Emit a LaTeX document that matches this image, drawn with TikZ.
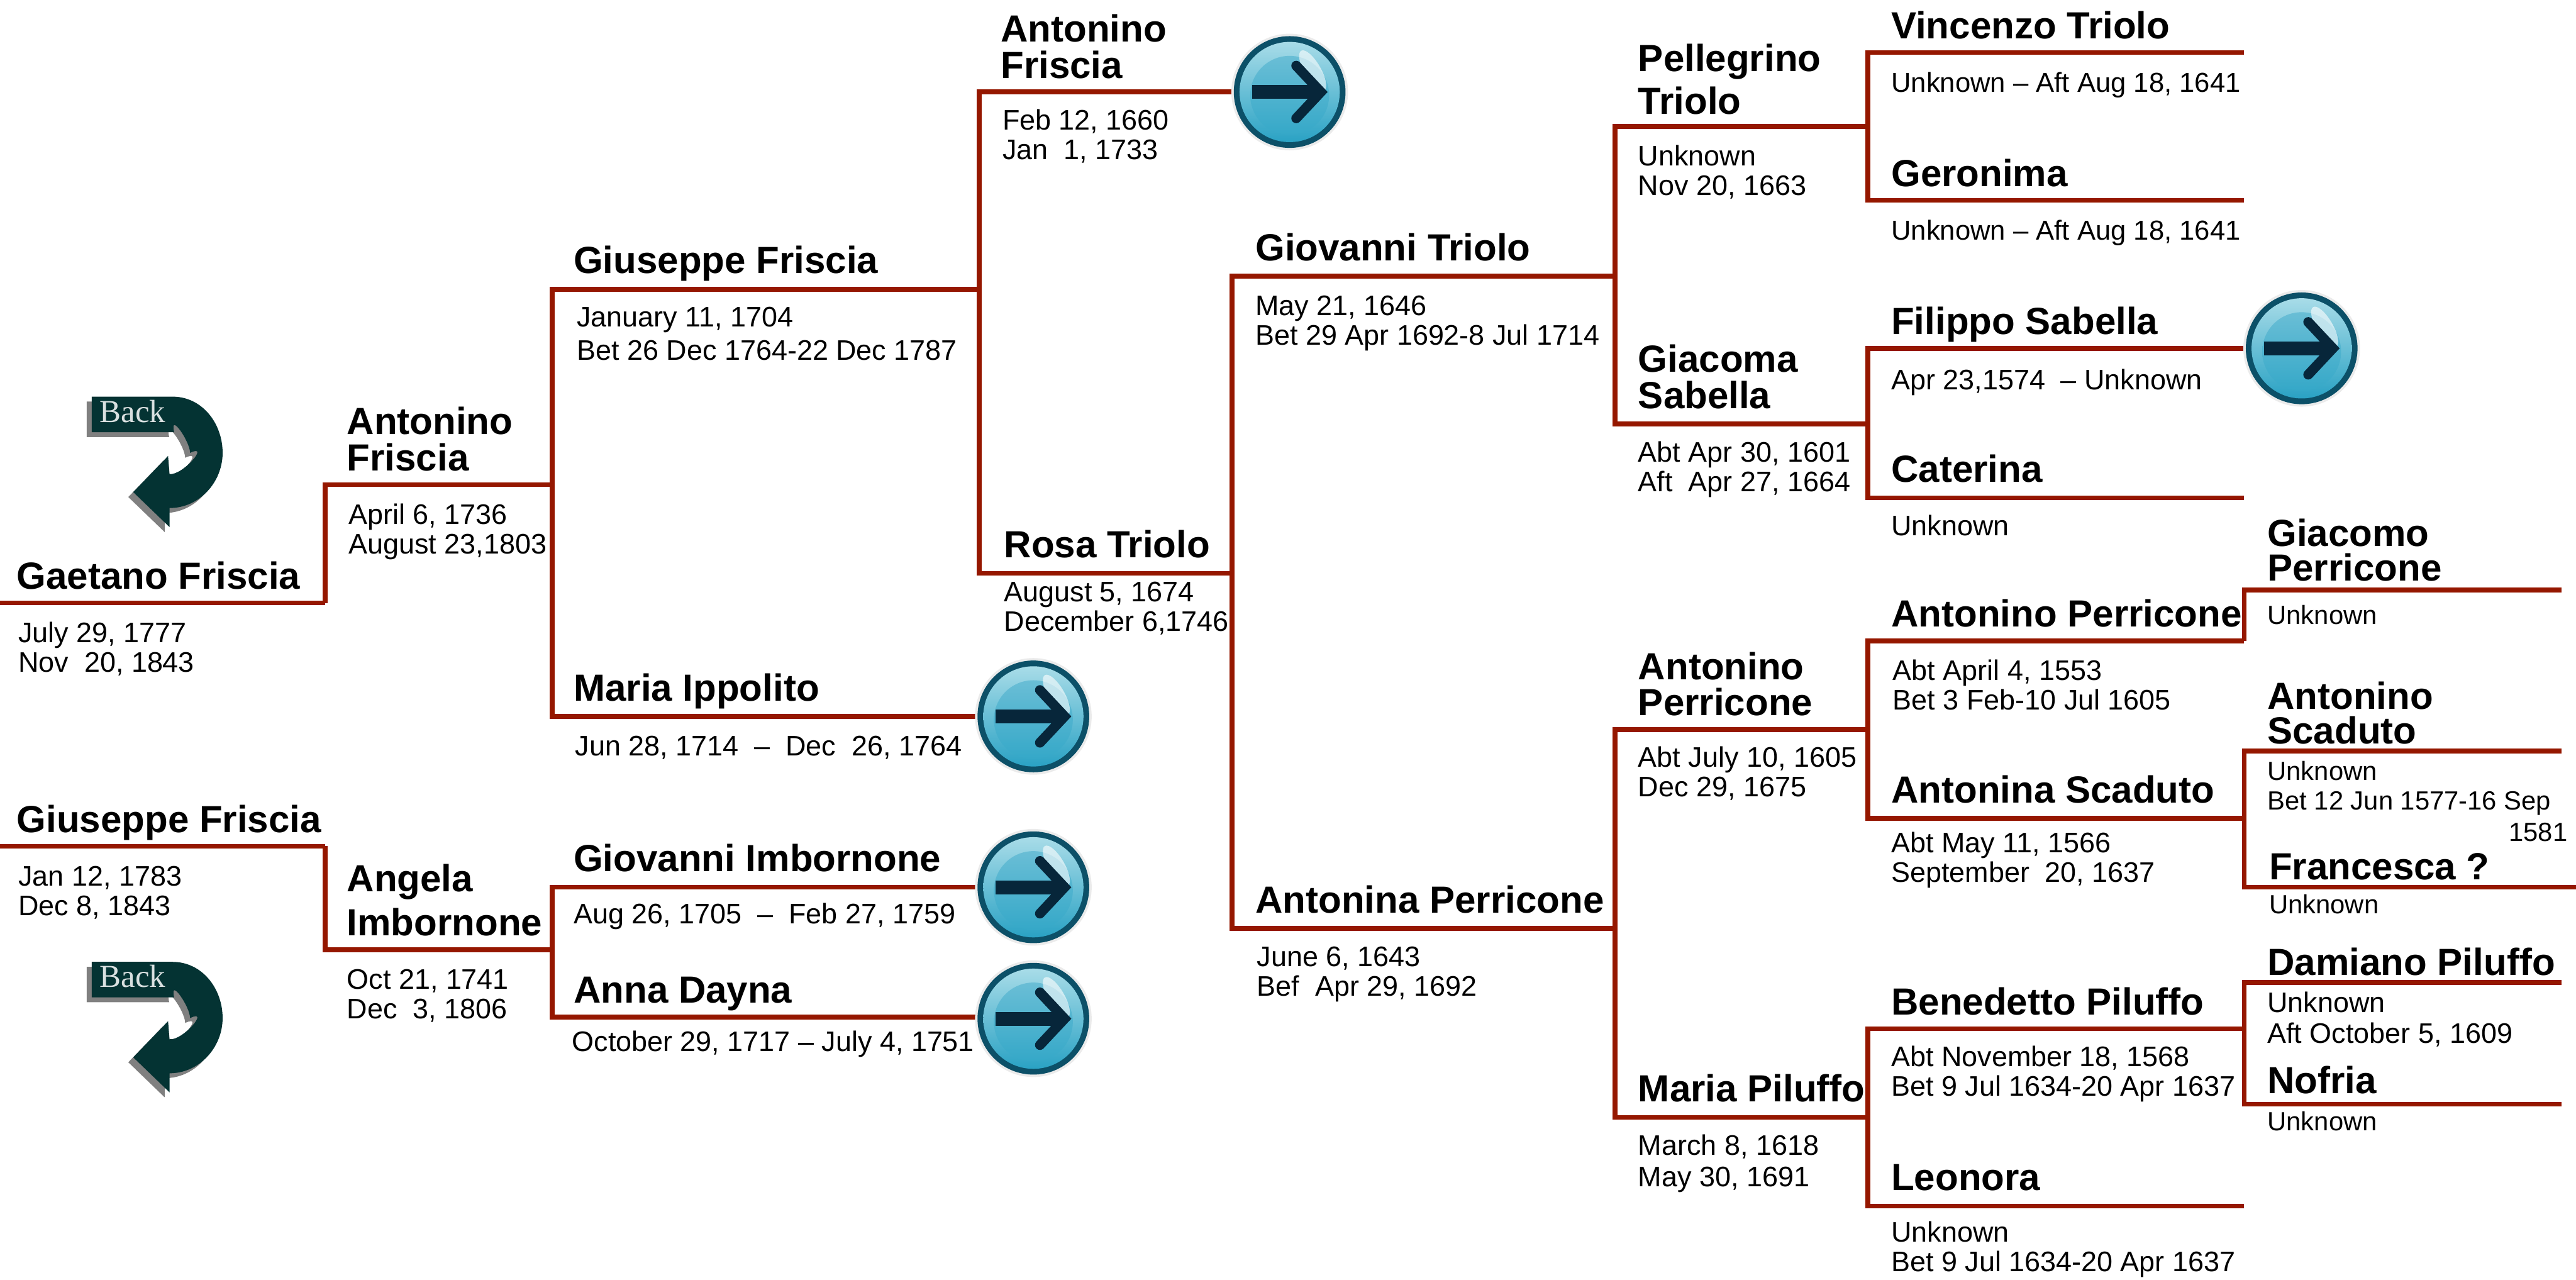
\documentclass[tikz,border=0pt]{standalone}
\usepackage{fontspec}
\setmainfont{Liberation Sans}
\newfontfamily\backfont{Liberation Serif}
\usetikzlibrary{calc}
\definecolor{branchred}{HTML}{951700}
\definecolor{backgreen}{HTML}{043333}
\definecolor{btnrim}{HTML}{0C5068}
\definecolor{btnring}{HTML}{2AA2C4}
\definecolor{btnlight}{HTML}{A8DCE8}
\definecolor{btnmid}{HTML}{35A8C8}
\definecolor{btnarrow}{HTML}{07263A}
\tikzset{
	branch/.style={draw=branchred, line width=2.9pt},
	pname/.style={anchor=base west, inner sep=0pt, yshift=-0.5pt, align=left, font=\bfseries\fontsize{23}{22}\selectfont},
	pdate/.style={anchor=base west, inner sep=0pt, yshift=-1pt, align=left, font=\fontsize{17.2}{18}\selectfont},
	pdatesm/.style={pdate, font=\fontsize{16}{18}\selectfont},
	nextbtn/.pic={
		\fill[black!8] (0,0) circle (35.5);
		\fill[btnrim] (0,0) circle (34);
		\shade[top color=btnlight, bottom color=btnring] (0,0) circle (30.5);
		\shade[top color=btnring!70!white, middle color=btnlight, bottom color=btnmid] (0,2) circle (24);
		\fill[white, opacity=0.6, rotate around={30:(14,-13)}] (14,-13) ellipse (5 and 14);
		\draw[draw=btnarrow, line width=8.5pt] (-23,0) -- (15,0);
		\draw[draw=btnarrow, line width=6pt, line cap=round] (4,-16) -- (19,0) -- (4,16);
	},
	backarrow/.pic={
		\foreach \dx/\fillcol in {-3/black!50, 0/backgreen}{
			\fill[\fillcol] ($(\dx,\dx*-1)+(55.8,241.4)$) -- ++(49.2,0)
				.. controls ++(18,0) and ++(0,-18) .. ++(30.5,34.2)
				.. controls ++(0,18) and ++(18,0) .. ++(-32.3,33.6)
				-- ++(0,11.6) -- ++(-22.1,-21.3) -- ++(21.2,-22)
				-- ++(0.9,11) .. controls ++(8,1) and ++(12.5,-6) .. ++(12.5,-12.9)
				.. controls ++(0,-7) and ++(-3,-12.6) .. ++(-9.7,-12.6)
				-- ++(-50.2,0) -- cycle;
		}
		\node[text=white!85!backgreen, font=\backfont\fontsize{19.5}{20}\selectfont, inner sep=0pt, anchor=base west] (-label) at (60.5,257) {Back};
	}
}

\begin{document}
\begin{tikzpicture}[x=1pt, y=-1pt]
			\useasboundingbox (0,0) rectangle (1568,779);
			%%%%% FORKS %%%%%
			\coordinate (rootA) at (0,367);
			\coordinate (rootB) at (0,515);
			\coordinate (gaetano) at (198,367);
			\coordinate (giuseppe) at (198,515);
			\coordinate (antoninoF) at (336,295);
			\coordinate (angela) at (336,578);
			\coordinate (giuseppeF) at (596,176);
			\coordinate (mariaI) at (600,436);
			\coordinate (giovanniI) at (600,540);
			\coordinate (annaD) at (600,619);
			\coordinate (antoninoT) at (755,56);
			\coordinate (rosa) at (750,349);
			\coordinate (giovanniT) at (983,168);
			\coordinate (antoninaP) at (983,565);
			\coordinate (pellegrino) at (1137,77);
			\coordinate (giacoma) at (1137,258);
			\coordinate (antoninoP) at (1137,444);
			\coordinate (mariaP) at (1137,680);
			\coordinate (vincenzo) at (1366,32);
			\coordinate (geronima) at (1366,122);
			\coordinate (filippo) at (1370,212);
			\coordinate (caterina) at (1366,303);
			\coordinate (antoninoQ) at (1366,390);
			\coordinate (antoninaS) at (1366,498);
			\coordinate (benedetto) at (1366,626);
			\coordinate (leonora) at (1366,734);
			\coordinate (giacomo) at (1559,359);
			\coordinate (antoninoS) at (1559,457);
			\coordinate (francesca) at (1568,540);
			\coordinate (damiano) at (1559,598);
			\coordinate (nofria) at (1559,672);

			%%%%% BRANCHES %%%%%
			\draw[branch] (rootA) -- (gaetano);
			\draw[branch] (rootB) -- (giuseppe);
			\draw[branch] (antoninoF) -| (gaetano);
			\draw[branch] (angela) -| (giuseppe);
			\draw[branch] (giuseppeF) -| (antoninoF);
			\draw[branch] (mariaI) -| (antoninoF);
			\draw[branch] (giovanniI) -| (angela);
			\draw[branch] (annaD) -| (angela);
			\draw[branch] (antoninoT) -| (giuseppeF);
			\draw[branch] (rosa) -| (giuseppeF);
			\draw[branch] (giovanniT) -| (rosa);
			\draw[branch] (antoninaP) -| (rosa);
			\draw[branch] (pellegrino) -| (giovanniT);
			\draw[branch] (giacoma) -| (giovanniT);
			\draw[branch] (antoninoP) -| (antoninaP);
			\draw[branch] (mariaP) -| (antoninaP);
			\draw[branch] (vincenzo) -| (pellegrino);
			\draw[branch] (geronima) -| (pellegrino);
			\draw[branch] (filippo) -| (giacoma);
			\draw[branch] (caterina) -| (giacoma);
			\draw[branch] (antoninoQ) -| (antoninoP);
			\draw[branch] (antoninaS) -| (antoninoP);
			\draw[branch] (benedetto) -| (mariaP);
			\draw[branch] (leonora) -| (mariaP);
			\draw[branch] (giacomo) -| (antoninoQ);
			\draw[branch] (antoninoS) -| (antoninaS);
			\draw[branch] (francesca) -| (antoninaS);
			\draw[branch] (damiano) -| (benedetto);
			\draw[branch] (nofria) -| (benedetto);

			%%%%% BUTTONS %%%%%
			\pic (backA) at (0,0) {backarrow};
			\pic (backB) at (0,344) {backarrow};
			\pic (btnA) at (785,56) {nextbtn};
			\pic (btnB) at (1401,212) {nextbtn};
			\pic (btnC) at (629,436) {nextbtn};
			\pic (btnD) at (629,540) {nextbtn};
			\pic (btnE) at (629,620) {nextbtn};

			%%%%% PEOPLE %%%%%
			\node[pname] (n01) at (10,358) {Gaetano Friscia};
			\node[pdate] (d01) at (11,408) {July 29, 1777\\Nov~ 20, 1843};
			\node[pname] (n02) at (10,506) {Giuseppe Friscia};
			\node[pdate] (d02) at (11,556) {Jan 12, 1783\\Dec 8, 1843};

			\node[pname] (n03) at (211,286) {Antonino\\Friscia};
			\node[pdate] (d03) at (212,336) {April 6, 1736\\August 23,1803};
			\node[pname] (n04) at (211,569) {Angela\\[5pt]Imbornone};
			\node[pdate] (d04) at (211,619) {Oct 21, 1741\\Dec~ 3, 1806};

			\node[pname] (n05) at (349,166) {Giuseppe Friscia};
			\node[pdate] (d05) at (351,218) {January 11, 1704\\[2pt]Bet 26 Dec 1764-22 Dec 1787};
			\node[pname] (n06) at (349,426) {Maria Ippolito};
			\node[pdate] (d06) at (350,459) {Jun 28, 1714 ~\textendash~ Dec~ 26, 1764};
			\node[pname] (n07) at (349,530) {Giovanni Imbornone};
			\node[pdate] (d07) at (349,561) {Aug 26, 1705 ~\textendash~ Feb 27, 1759};
			\node[pname] (n08) at (349,610) {Anna Dayna};
			\node[pdate] (d08) at (348,639) {October 29, 1717 – July 4, 1751};

			\node[pname] (n09) at (609,47) {Antonino\\Friscia};
			\node[pdate] (d09) at (610,96) {Feb 12, 1660\\Jan~ 1, 1733};
			\node[pname] (n10) at (611,339) {Rosa Triolo};
			\node[pdate] (d10) at (611,383) {August 5, 1674\\December 6,1746};

			\node[pname] (n11) at (764,158) {Giovanni Triolo};
			\node[pdate] (d11) at (764,209) {May 21, 1646\\Bet 29 Apr 1692-8 Jul 1714};
			\node[pname] (n12) at (764,555) {Antonina Perricone};
			\node[pdate] (d12) at (765,605) {June 6, 1643\\Bef~ Apr 29, 1692};

			\node[pname] (n13) at (997,69) {Pellegrino\\[4pt]Triolo};
			\node[pdate] (d13) at (997,118) {Unknown\\Nov 20, 1663};
			\node[pname] (n14) at (997,248) {Giacoma\\Sabella};
			\node[pdate] (d14) at (997,298) {Abt Apr 30, 1601\\Aft~ Apr 27, 1664};
			\node[pname] (n15) at (997,435) {Antonino\\Perricone};
			\node[pdate] (d15) at (997,484) {Abt July 10, 1605\\Dec 29, 1675};
			\node[pname] (n16) at (997,670) {Maria Piluffo};
			\node[pdate] (d16) at (997,721) {March 8, 1618\\[1pt]May 30, 1691};

			\node[pname] (n17) at (1151,23) {Vincenzo Triolo};
			\node[pdate, font=\fontsize{16.7}{18}\selectfont] (d17) at (1151,55) {Unknown – Aft Aug 18, 1641};
			\node[pname] (n18) at (1151,113) {Geronima};
			\node[pdate, font=\fontsize{16.7}{18}\selectfont] (d18) at (1151,145) {Unknown – Aft Aug 18, 1641};
			\node[pname] (n19) at (1151,203) {Filippo Sabella};
			\node[pdate] (d19) at (1151,236) {Apr 23,1574 ~– Unknown};
			\node[pname] (n20) at (1151,293) {Caterina};
			\node[pdate] (d20) at (1151,325) {Unknown};
			\node[pname] (n21) at (1151,381) {Antonino Perricone};
			\node[pdate] (d21) at (1152,431) {Abt April 4, 1553\\Bet 3 Feb-10 Jul 1605};
			\node[pname] (n22) at (1151,488) {Antonina Scaduto};
			\node[pdate] (d22) at (1151,536) {Abt May 11, 1566\\September~ 20, 1637};
			\node[pname] (n23) at (1151,617) {Benedetto Piluffo};
			\node[pdate] (d23) at (1151,666) {Abt November 18, 1568\\Bet 9 Jul 1634-20 Apr 1637};
			\node[pname] (n24) at (1151,724) {Leonora};
			\node[pdate] (d24) at (1151,773) {Unknown\\Bet 9 Jul 1634-20 Apr 1637};

			\node[pname] (n25) at (1380,353) {Giacomo\\[-1pt]Perricone};
			\node[pdatesm] (d25) at (1380,379) {Unknown};
			\node[pname] (n26) at (1380,452) {Antonino\\[-1pt]Scaduto};
			\node[pdatesm] (d26) at (1380,492) {Unknown\\Bet 12 Jun 1577-16 Sep};
			\node[pdatesm, anchor=base east] (d27) at (1563,511) {1581};
			\node[pname] (n27) at (1381,535) {Francesca ?};
			\node[pdatesm] (d28) at (1381,555) {Unknown};
			\node[pname] (n28) at (1380,593) {Damiano Piluffo};
			\node[pdate] (d29) at (1380,634) {Unknown\\[1pt]Aft October 5, 1609};
			\node[pname] (n29) at (1380,665) {Nofria};
			\node[pdatesm] (d30) at (1380,687) {Unknown};
		\end{tikzpicture}
\end{document}
